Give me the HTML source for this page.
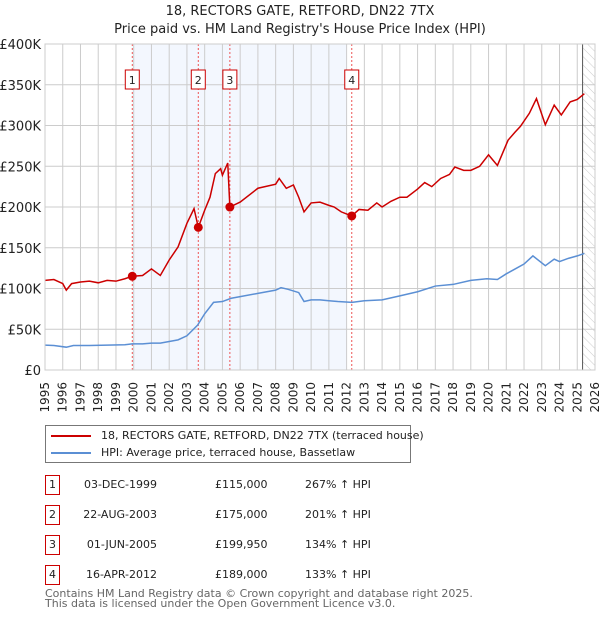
<!DOCTYPE html>
<html><head><meta charset="utf-8"><style>
body{margin:0;background:#fff;font-family:"DejaVu Sans","Liberation Sans",sans-serif;}
svg text{font-family:"DejaVu Sans","Liberation Sans",sans-serif;}
.tbl div{white-space:nowrap}
</style></head><body>
<svg id="c" width="600" height="620" xmlns="http://www.w3.org/2000/svg">
<text x="300" y="15" text-anchor="middle" font-size="13" fill="#222">18, RECTORS GATE, RETFORD, DN22 7TX</text>
<text x="300" y="33" text-anchor="middle" font-size="13" fill="#222">Price paid vs. HM Land Registry's House Price Index (HPI)</text>
<defs><pattern id="hatch" width="6" height="6" patternUnits="userSpaceOnUse" patternTransform="rotate(-45)"><line x1="0" y1="0" x2="0" y2="6" stroke="#ccc" stroke-width="1"/></pattern></defs>
<g id="plot"></g>
</svg>
<script>
const years=[1995,1996,1997,1998,1999,2000,2001,2002,2003,2004,2005,2006,2007,2008,2009,2010,2011,2012,2013,2014,2015,2016,2017,2018,2019,2020,2021,2022,2023,2024,2025,2026];
const yTicks=[0,50,100,150,200,250,300,350,400];
const yTickLabels=["£0","£50K","£100K","£150K","£200K","£250K","£300K","£350K","£400K"];
const hpiT=[1995,1995.5,1996.2,1996.6,1997.5,1998.5,1999.5,1999.9,2000.5,2001,2001.5,2002,2002.5,2003,2003.6,2004,2004.5,2005,2005.5,2006,2007,2008,2008.3,2008.7,2009.3,2009.6,2010,2010.5,2011,2011.5,2012.3,2013,2014,2015,2016,2017,2018,2019,2019.9,2020.5,2021,2021.5,2022,2022.5,2023.2,2023.7,2024,2024.5,2025,2025.4];
const hpiV=[30.5,30,28,30,30,30.5,31,32,32,33,33,35,37,42,55,69,83,84,88,90,94,98,101,99,95,84,86,86,85,84,83,85,86,91,96,103,105,110,112,111,118,124,130,140,128,136,133,137,140,143];
const redT=[1995,1995.5,1996,1996.2,1996.5,1997,1997.5,1998,1998.5,1999,1999.5,1999.92,2000.5,2001,2001.5,2002,2002.5,2003,2003.4,2003.64,2004,2004.3,2004.6,2004.9,2005,2005.3,2005.42,2006,2007,2008,2008.2,2008.6,2009,2009.3,2009.6,2010,2010.5,2011,2011.3,2011.7,2012.29,2012.7,2013.2,2013.7,2014,2014.5,2015,2015.4,2016,2016.4,2016.8,2017.3,2017.8,2018.1,2018.6,2019,2019.5,2020,2020.5,2021.1,2021.5,2021.8,2022.3,2022.7,2023.2,2023.7,2024.1,2024.6,2025,2025.4];
const redV=[110,111,106,98,106,108,109,107,110,109,112,115,116,124,116,135,151,180,198,175,196,212,241,247,239,254,200,206,223,228,235,223,227,212,194,205,206,202,200,194,189,197,196,205,200,207,212,212,222,230,225,235,240,249,245,245,250,264,251,282,292,299,315,333,301,325,313,329,332,339];
const sales=[{t:1999.92,v:115,n:"1"},{t:2003.64,v:175,n:"2"},{t:2005.42,v:199.95,n:"3"},{t:2012.29,v:189,n:"4"}];
const X0=45,X1=595,Y0=370,Y1=44;
const xs=t=>X0+(t-1995)*(X1-X0)/31;
const ys=v=>Y0-v*(Y0-Y1)/400;
const g=document.getElementById('plot');
const NS="http://www.w3.org/2000/svg";
function el(tag,attrs,parent){const e=document.createElementNS(NS,tag);for(const k in attrs)e.setAttribute(k,attrs[k]);(parent||g).appendChild(e);return e;}
let r=el('rect',{x:xs(sales[0].t),y:Y1,width:xs(2012.0)-xs(sales[0].t),height:Y0-Y1,fill:'#eef3fd',opacity:0.7});


let h=el('rect',{x:xs(2025.3),y:Y1,width:X1-xs(2025.3),height:Y0-Y1,fill:'url(#hatch)'});


years.forEach(y=>{const x=xs(y);
 let l=el('line',{x1:x,x2:x,y1:Y1,y2:Y0,stroke:'#ccc','stroke-width':1});
 
 
 let t=el('text',{x:0,y:0,'font-size':12,fill:'#222','text-anchor':'end',transform:`translate(${x+4},${Y0+12}) rotate(-90)`});
 t.textContent=y;
 
 
});
yTicks.forEach((v,i)=>{const y=ys(v);
 let l=el('line',{x1:X0,x2:X1,y1:y,y2:y,stroke:'#ccc','stroke-width':1});
 
 
 let t=el('text',{x:X0-4,y:y+5,'font-size':13,fill:'#222','text-anchor':'end'});
 t.textContent=yTickLabels[i];
 
 
});
let nl=el('line',{x1:xs(2025.3),x2:xs(2025.3),y1:Y1,y2:Y0,stroke:'#555','stroke-width':1});


sales.forEach(s=>{const x=xs(s.t);
 let l=el('line',{x1:x,x2:x,y1:Y1,y2:Y0,stroke:'#e55','stroke-width':1,'stroke-dasharray':'2,2'});
 
 
 let b=el('rect',{x:x-7,y:70,width:14,height:19,fill:'#fff',stroke:'#c00','stroke-width':1});
 
 
 let t=el('text',{x:x,y:84,'font-size':11,'text-anchor':'middle',fill:'#222'});
 t.textContent=s.n;
 
 
});
let hp=el('polyline',{points:hpiT.map((t,i)=>xs(t)+','+ys(hpiV[i])).join(' '),fill:'none',stroke:'#5b8fd4','stroke-width':1.5});


let rp=el('polyline',{points:redT.map((t,i)=>xs(t)+','+ys(redV[i])).join(' '),fill:'none',stroke:'#cc0000','stroke-width':1.5});


sales.forEach(s=>{
 let c=el('circle',{cx:xs(s.t),cy:ys(s.v),r:4.5,fill:'#cc0000'});
 
 
});
let fr=el('rect',{x:X0,y:Y1,width:X1-X0,height:Y0-Y1,fill:'none',stroke:'#ccc','stroke-width':1});


</script>
<div style="position:absolute;left:45px;top:425px;width:364px;height:36px;border:1px solid #777;font-size:11px;color:#222;">
 <div style="position:absolute;left:5px;top:3px;white-space:nowrap"><span style="display:inline-block;width:40px;height:2px;background:#cc0000;vertical-align:middle;margin-right:10px"></span>18, RECTORS GATE, RETFORD, DN22 7TX (terraced house)</div>
 <div style="position:absolute;left:5px;top:20px;white-space:nowrap"><span style="display:inline-block;width:40px;height:2px;background:#5b8fd4;vertical-align:middle;margin-right:10px"></span>HPI: Average price, terraced house, Bassetlaw</div>
</div>
<div class="tbl" style="position:absolute;left:0;top:0;width:600px;font-size:11px;color:#222">
 <div>
  <div style="position:absolute;left:45px;top:475px;width:13px;height:18px;border:1px solid #c00;text-align:center;line-height:18px">1</div>
  <div style="position:absolute;left:60px;top:478px;width:97px;text-align:right">03-DEC-1999</div>
  <div style="position:absolute;left:215px;top:478px">£115,000</div>
  <div style="position:absolute;left:305px;top:478px">267% ↑ HPI</div>
 </div>
 <div>
  <div style="position:absolute;left:45px;top:505px;width:13px;height:18px;border:1px solid #c00;text-align:center;line-height:18px">2</div>
  <div style="position:absolute;left:60px;top:508px;width:97px;text-align:right">22-AUG-2003</div>
  <div style="position:absolute;left:215px;top:508px">£175,000</div>
  <div style="position:absolute;left:305px;top:508px">201% ↑ HPI</div>
 </div>
 <div>
  <div style="position:absolute;left:45px;top:535px;width:13px;height:18px;border:1px solid #c00;text-align:center;line-height:18px">3</div>
  <div style="position:absolute;left:60px;top:538px;width:97px;text-align:right">01-JUN-2005</div>
  <div style="position:absolute;left:215px;top:538px">£199,950</div>
  <div style="position:absolute;left:305px;top:538px">134% ↑ HPI</div>
 </div>
 <div>
  <div style="position:absolute;left:45px;top:565px;width:13px;height:18px;border:1px solid #c00;text-align:center;line-height:18px">4</div>
  <div style="position:absolute;left:60px;top:568px;width:97px;text-align:right">16-APR-2012</div>
  <div style="position:absolute;left:215px;top:568px">£189,000</div>
  <div style="position:absolute;left:305px;top:568px">133% ↑ HPI</div>
 </div>
</div>
<div style="position:absolute;left:45px;top:589px;font-size:11px;color:#666;line-height:10px;white-space:nowrap">Contains HM Land Registry data © Crown copyright and database right 2025.<br>This data is licensed under the Open Government Licence v3.0.</div>
</body></html>
